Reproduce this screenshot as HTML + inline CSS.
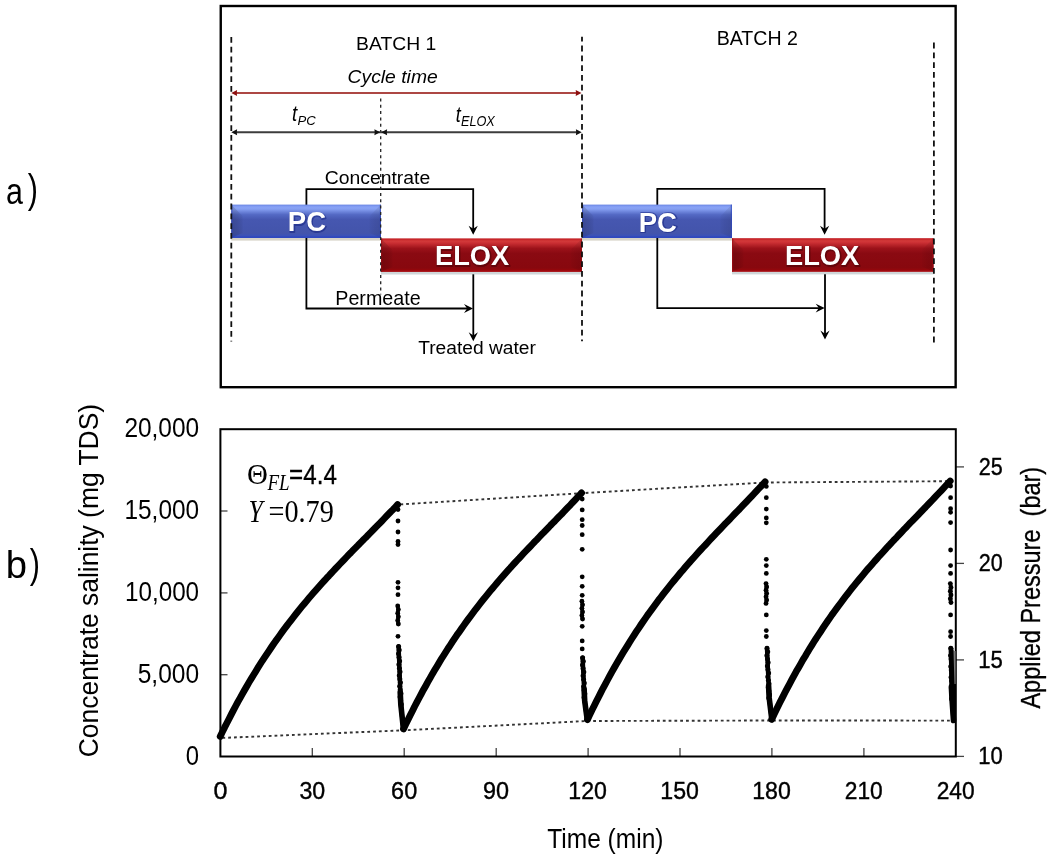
<!DOCTYPE html>
<html><head><meta charset="utf-8"><title>Batch cycle figure</title>
<style>html,body{margin:0;padding:0;background:#fff;overflow:hidden}svg{display:block}</style></head>
<body><svg width="1050" height="857" viewBox="0 0 1050 857">
<rect width="1050" height="857" fill="#fff"/>
<defs>
<linearGradient id="gpc" x1="0" y1="0" x2="0" y2="1">
 <stop offset="0" stop-color="#6a86e4"/>
 <stop offset="0.07" stop-color="#88a2f6"/>
 <stop offset="0.13" stop-color="#86a0f2"/>
 <stop offset="0.30" stop-color="#5469c4"/>
 <stop offset="0.45" stop-color="#4657b0"/>
 <stop offset="0.86" stop-color="#4354ab"/>
 <stop offset="0.93" stop-color="#3c52b8"/>
 <stop offset="1" stop-color="#2f48c2"/>
</linearGradient>
<linearGradient id="gel" x1="0" y1="0" x2="0" y2="1">
 <stop offset="0" stop-color="#c0181e"/>
 <stop offset="0.08" stop-color="#d23a3a"/>
 <stop offset="0.13" stop-color="#cc3034"/>
 <stop offset="0.30" stop-color="#9c121a"/>
 <stop offset="0.45" stop-color="#8a0a12"/>
 <stop offset="0.88" stop-color="#88080e"/>
 <stop offset="0.95" stop-color="#96080c"/>
 <stop offset="1" stop-color="#a40c10"/>
</linearGradient>
<linearGradient id="bevL" x1="0" y1="0" x2="1" y2="0">
 <stop offset="0" stop-color="#000" stop-opacity="0.16"/>
 <stop offset="0.6" stop-color="#000" stop-opacity="0.10"/>
 <stop offset="1" stop-color="#000" stop-opacity="0.03"/>
</linearGradient>
<linearGradient id="bevR" x1="1" y1="0" x2="0" y2="0">
 <stop offset="0" stop-color="#000" stop-opacity="0.10"/>
 <stop offset="0.6" stop-color="#000" stop-opacity="0.06"/>
 <stop offset="1" stop-color="#000" stop-opacity="0.02"/>
</linearGradient>
</defs>
<rect x="220.75" y="6" width="734.9" height="381.2" fill="none" stroke="#000" stroke-width="2.4"/>
<rect x="231.2" y="238.0" width="149.8" height="2.6" fill="#d8d4c8"/>
<rect x="381.0" y="271.9" width="201.0" height="2.6" fill="#cfd6d8"/>
<rect x="582.0" y="238.0" width="150.0" height="2.6" fill="#d8d4c8"/>
<rect x="732.0" y="271.8" width="201.60000000000002" height="2.6" fill="#cfd6d8"/>
<polyline points="473.2,230.8 473.2,189.1 306.4,189.1 306.4,308.5 468.8,308.5" fill="none" stroke="#000" stroke-width="1.8"/>
<path d="M473.20,234.70 L468.60,225.70 L473.20,228.85 L477.80,225.70 Z" fill="#000"/>
<path d="M473.00,308.50 L464.00,304.10 L467.15,308.50 L464.00,312.90 Z" fill="#000"/>
<line x1="473.3" y1="274.3" x2="473.3" y2="336.8" stroke="#000" stroke-width="1.8"/>
<path d="M473.30,341.30 L468.70,332.30 L473.30,335.45 L477.90,332.30 Z" fill="#000"/>
<polyline points="824.6,230.8 824.6,188.8 657.3,188.8 657.3,308.1 820.5,308.1" fill="none" stroke="#000" stroke-width="1.8"/>
<path d="M824.60,234.70 L820.00,225.70 L824.60,228.85 L829.20,225.70 Z" fill="#000"/>
<path d="M824.70,308.10 L815.70,303.70 L818.85,308.10 L815.70,312.50 Z" fill="#000"/>
<line x1="825.0" y1="274.3" x2="825.0" y2="335.1" stroke="#000" stroke-width="1.8"/>
<path d="M825.00,339.60 L820.40,330.60 L825.00,333.75 L829.60,330.60 Z" fill="#000"/>
<rect x="231.2" y="204.6" width="149.8" height="33.400000000000006" fill="url(#gpc)"/>
<path d="M231.2,204.6 L242.7,216.1 L242.7,233.0 L231.2,238.0 Z" fill="url(#bevL)"/>
<path d="M381.0,204.6 L369.5,216.1 L369.5,233.0 L381.0,238.0 Z" fill="url(#bevR)"/>
<rect x="231.2" y="236.0" width="149.8" height="2" fill="#2c45c0" opacity="0.35"/>
<rect x="231.2" y="204.6" width="1.2" height="33.400000000000006" fill="#2c45c0" opacity="0.6"/>
<rect x="379.8" y="204.6" width="1.2" height="33.400000000000006" fill="#2c45c0" opacity="0.6"/>
<rect x="381.0" y="238.4" width="201.0" height="33.49999999999997" fill="url(#gel)"/>
<path d="M381.0,238.4 L392.5,249.9 L392.5,266.9 L381.0,271.9 Z" fill="url(#bevL)"/>
<path d="M582.0,238.4 L570.5,249.9 L570.5,266.9 L582.0,271.9 Z" fill="url(#bevR)"/>
<rect x="381.0" y="269.9" width="201.0" height="2" fill="#a80c14" opacity="0.35"/>
<rect x="381.0" y="238.4" width="1.2" height="33.49999999999997" fill="#a80c14" opacity="0.6"/>
<rect x="580.8" y="238.4" width="1.2" height="33.49999999999997" fill="#a80c14" opacity="0.6"/>
<rect x="582.0" y="204.6" width="150.0" height="33.400000000000006" fill="url(#gpc)"/>
<path d="M582.0,204.6 L593.5,216.1 L593.5,233.0 L582.0,238.0 Z" fill="url(#bevL)"/>
<path d="M732.0,204.6 L720.5,216.1 L720.5,233.0 L732.0,238.0 Z" fill="url(#bevR)"/>
<rect x="582.0" y="236.0" width="150.0" height="2" fill="#2c45c0" opacity="0.35"/>
<rect x="582.0" y="204.6" width="1.2" height="33.400000000000006" fill="#2c45c0" opacity="0.6"/>
<rect x="730.8" y="204.6" width="1.2" height="33.400000000000006" fill="#2c45c0" opacity="0.6"/>
<rect x="732.0" y="238.2" width="201.60000000000002" height="33.60000000000002" fill="url(#gel)"/>
<path d="M732.0,238.2 L743.5,249.7 L743.5,266.8 L732.0,271.8 Z" fill="url(#bevL)"/>
<path d="M933.6,238.2 L922.1,249.7 L922.1,266.8 L933.6,271.8 Z" fill="url(#bevR)"/>
<rect x="732.0" y="269.8" width="201.60000000000002" height="2" fill="#a80c14" opacity="0.35"/>
<rect x="732.0" y="238.2" width="1.2" height="33.60000000000002" fill="#a80c14" opacity="0.6"/>
<rect x="932.4" y="238.2" width="1.2" height="33.60000000000002" fill="#a80c14" opacity="0.6"/>
<line x1="231.3" y1="37" x2="231.3" y2="341.5" stroke="#111" stroke-width="1.8" stroke-dasharray="5.8 4" stroke-dashoffset="0"/>
<line x1="582.0" y1="36.8" x2="582.0" y2="341.2" stroke="#111" stroke-width="1.8" stroke-dasharray="5.8 4" stroke-dashoffset="1"/>
<line x1="933.9" y1="42.6" x2="933.9" y2="342.4" stroke="#111" stroke-width="1.8" stroke-dasharray="5.8 4" stroke-dashoffset="0"/>
<line x1="380.7" y1="98.5" x2="380.7" y2="294.5" stroke="#222" stroke-width="1.3" stroke-dasharray="3 3.3"/>
<line x1="235" y1="93" x2="578" y2="93" stroke="#ad4744" stroke-width="2"/>
<path d="M231.30,93.00 L237.10,90.00 L236.75,93.00 L237.10,96.00 Z" fill="#8e1010"/>
<path d="M581.50,93.00 L575.70,90.00 L576.05,93.00 L575.70,96.00 Z" fill="#8e1010"/>
<line x1="235" y1="132.3" x2="577.5" y2="132.3" stroke="#3c3c3c" stroke-width="2"/>
<path d="M231.30,132.30 L237.10,129.30 L236.75,132.30 L237.10,135.30 Z" fill="#111"/>
<path d="M380.20,132.30 L374.40,129.30 L374.75,132.30 L374.40,135.30 Z" fill="#111"/>
<path d="M381.30,132.30 L387.10,129.30 L386.75,132.30 L387.10,135.30 Z" fill="#111"/>
<path d="M581.70,132.30 L575.90,129.30 L576.25,132.30 L575.90,135.30 Z" fill="#111"/>
<text transform="translate(6.01,203.93) scale(0.3044,0.3708)" style="font-family:'Liberation Sans',Arial,sans-serif;font-size:100px;white-space:pre" fill="#000">a</text>
<text transform="translate(27.77,203.46) scale(0.3048,0.4021)" style="font-family:'Liberation Sans',Arial,sans-serif;font-size:100px;white-space:pre" fill="#000">)</text>
<text transform="translate(356.10,49.90) scale(0.1934,0.1907)" style="font-family:'Liberation Sans',Arial,sans-serif;font-size:100px;white-space:pre" fill="#000">BATCH 1</text>
<text transform="translate(716.68,45.40) scale(0.1958,0.2007)" style="font-family:'Liberation Sans',Arial,sans-serif;font-size:100px;white-space:pre" fill="#000">BATCH 2</text>
<text transform="translate(347.54,82.94) scale(0.1933,0.1909)" style="font-family:'Liberation Sans',Arial,sans-serif;font-style:italic;font-size:100px;white-space:pre" fill="#000">Cycle time</text>
<text transform="translate(292.06,121.38) scale(0.1869,0.2168)" style="font-family:'Liberation Sans',Arial,sans-serif;font-style:italic;font-size:100px;white-space:pre" fill="#000">t</text>
<text transform="translate(297.51,125.18) scale(0.1311,0.1216)" style="font-family:'Liberation Sans',Arial,sans-serif;font-style:italic;font-size:100px;white-space:pre" fill="#000">PC</text>
<text transform="translate(455.69,122.19) scale(0.1794,0.2137)" style="font-family:'Liberation Sans',Arial,sans-serif;font-style:italic;font-size:100px;white-space:pre" fill="#000">t</text>
<text transform="translate(460.92,126.06) scale(0.1271,0.1399)" style="font-family:'Liberation Sans',Arial,sans-serif;font-style:italic;font-size:100px;white-space:pre" fill="#000">ELOX</text>
<text transform="translate(324.73,184.00) scale(0.1937,0.1849)" style="font-family:'Liberation Sans',Arial,sans-serif;font-size:100px;white-space:pre" fill="#000">Concentrate</text>
<text transform="translate(335.28,305.00) scale(0.1969,0.1935)" style="font-family:'Liberation Sans',Arial,sans-serif;font-size:100px;white-space:pre" fill="#000">Permeate</text>
<text transform="translate(418.17,353.60) scale(0.1921,0.1876)" style="font-family:'Liberation Sans',Arial,sans-serif;font-size:100px;white-space:pre" fill="#000">Treated water</text>
<text transform="translate(288.44,232.10) scale(0.2749,0.2724)" style="font-family:'Liberation Sans',Arial,sans-serif;font-weight:bold;font-size:100px;white-space:pre" fill="#0c1a78" stroke="#0c1a78" stroke-width="7" stroke-linejoin="round" opacity="0.45">PC</text>
<text transform="translate(287.84,231.40) scale(0.2749,0.2724)" style="font-family:'Liberation Sans',Arial,sans-serif;font-weight:bold;font-size:100px;white-space:pre" fill="#fff">PC</text>
<text transform="translate(639.34,232.40) scale(0.2749,0.2738)" style="font-family:'Liberation Sans',Arial,sans-serif;font-weight:bold;font-size:100px;white-space:pre" fill="#0c1a78" stroke="#0c1a78" stroke-width="7" stroke-linejoin="round" opacity="0.45">PC</text>
<text transform="translate(638.74,231.70) scale(0.2749,0.2738)" style="font-family:'Liberation Sans',Arial,sans-serif;font-weight:bold;font-size:100px;white-space:pre" fill="#fff">PC</text>
<text transform="translate(435.56,265.90) scale(0.2730,0.2781)" style="font-family:'Liberation Sans',Arial,sans-serif;font-weight:bold;font-size:100px;white-space:pre" fill="#3a0004" stroke="#3a0004" stroke-width="7" stroke-linejoin="round" opacity="0.45">ELOX</text>
<text transform="translate(434.96,265.20) scale(0.2730,0.2781)" style="font-family:'Liberation Sans',Arial,sans-serif;font-weight:bold;font-size:100px;white-space:pre" fill="#fff">ELOX</text>
<text transform="translate(785.55,265.80) scale(0.2733,0.2853)" style="font-family:'Liberation Sans',Arial,sans-serif;font-weight:bold;font-size:100px;white-space:pre" fill="#3a0004" stroke="#3a0004" stroke-width="7" stroke-linejoin="round" opacity="0.45">ELOX</text>
<text transform="translate(784.95,265.10) scale(0.2733,0.2853)" style="font-family:'Liberation Sans',Arial,sans-serif;font-weight:bold;font-size:100px;white-space:pre" fill="#fff">ELOX</text>
<text transform="translate(5.72,577.81) scale(0.3822,0.3891)" style="font-family:'Liberation Sans',Arial,sans-serif;font-size:100px;white-space:pre" fill="#000">b</text>
<text transform="translate(29.77,577.59) scale(0.3048,0.4054)" style="font-family:'Liberation Sans',Arial,sans-serif;font-size:100px;white-space:pre" fill="#000">)</text>
<polyline points="397.5,504.6 581.6,493.2 765.0,482.5 950.0,481.2" fill="none" stroke="#333" stroke-width="1.9" stroke-dasharray="2.8 3.0" stroke-dashoffset="-2.9"/>
<polyline points="220.5,738.0 403.5,730.3 587.0,721.0 771.5,720.5 951.0,720.6" fill="none" stroke="#333" stroke-width="1.9" stroke-dasharray="2.8 3.0" stroke-dashoffset="-1.9"/>
<line x1="221" y1="674.7" x2="227.5" y2="674.7" stroke="#444" stroke-width="1.3"/>
<line x1="221" y1="592.9" x2="227.5" y2="592.9" stroke="#444" stroke-width="1.3"/>
<line x1="221" y1="511.0" x2="227.5" y2="511.0" stroke="#444" stroke-width="1.3"/>
<line x1="312.3" y1="748" x2="312.3" y2="756" stroke="#444" stroke-width="1.3"/>
<line x1="404.2" y1="748" x2="404.2" y2="756" stroke="#444" stroke-width="1.3"/>
<line x1="496.2" y1="748" x2="496.2" y2="756" stroke="#444" stroke-width="1.3"/>
<line x1="588.1" y1="748" x2="588.1" y2="756" stroke="#444" stroke-width="1.3"/>
<line x1="680.0" y1="748" x2="680.0" y2="756" stroke="#444" stroke-width="1.3"/>
<line x1="771.9" y1="748" x2="771.9" y2="756" stroke="#444" stroke-width="1.3"/>
<line x1="863.9" y1="748" x2="863.9" y2="756" stroke="#444" stroke-width="1.3"/>
<line x1="956" y1="466.9" x2="964" y2="466.9" stroke="#444" stroke-width="1.3"/>
<line x1="956" y1="563.4" x2="964" y2="563.4" stroke="#444" stroke-width="1.3"/>
<line x1="956" y1="659.9" x2="964" y2="659.9" stroke="#444" stroke-width="1.3"/>
<line x1="956" y1="756.4" x2="964" y2="756.4" stroke="#444" stroke-width="1.3"/>
<rect x="220.4" y="429.2" width="735.4" height="327.3" fill="none" stroke="#000" stroke-width="2.0"/>
<polyline points="220.2,736.5 222.4,731.9 224.6,727.4 226.9,723.0 229.1,718.7 231.3,714.4 233.5,710.2 235.7,706.0 237.9,701.9 240.2,697.9 242.4,693.9 244.6,690.0 246.8,686.2 249.0,682.4 251.2,678.7 253.5,675.0 255.7,671.4 257.9,667.8 260.1,664.3 262.3,660.8 264.6,657.4 266.8,654.1 269.0,650.8 271.2,647.5 273.4,644.3 275.6,641.1 277.9,638.0 280.1,634.9 282.3,631.8 284.5,628.8 286.7,625.9 288.9,623.0 291.2,620.1 293.4,617.2 295.6,614.4 297.8,611.6 300.0,608.9 302.2,606.2 304.5,603.5 306.7,600.9 308.9,598.2 311.1,595.6 313.3,593.1 315.6,590.5 317.8,588.0 320.0,585.5 322.2,583.0 324.4,580.6 326.6,578.2 328.9,575.8 331.1,573.4 333.3,571.0 335.5,568.6 337.7,566.3 339.9,564.0 342.2,561.6 344.4,559.3 346.6,557.0 348.8,554.7 351.0,552.5 353.2,550.2 355.5,547.9 357.7,545.7 359.9,543.4 362.1,541.2 364.3,538.9 366.6,536.7 368.8,534.4 371.0,532.2 373.2,529.9 375.4,527.6 377.6,525.4 379.9,523.1 382.1,520.8 384.3,518.5 386.5,516.2 388.7,513.9 390.9,511.6 393.2,509.3 395.4,507.0 397.6,504.6" fill="none" stroke="#000" stroke-width="6.8" stroke-linecap="round" stroke-linejoin="round"/>
<polyline points="403.5,729.0 405.7,724.4 408.0,719.8 410.2,715.3 412.4,710.9 414.6,706.5 416.9,702.2 419.1,698.0 421.3,693.8 423.5,689.7 425.8,685.7 428.0,681.7 430.2,677.8 432.4,673.9 434.7,670.1 436.9,666.4 439.1,662.7 441.3,659.1 443.6,655.5 445.8,652.0 448.0,648.5 450.3,645.1 452.5,641.7 454.7,638.4 456.9,635.1 459.2,631.9 461.4,628.7 463.6,625.6 465.8,622.5 468.1,619.4 470.3,616.4 472.5,613.4 474.7,610.5 477.0,607.6 479.2,604.7 481.4,601.9 483.6,599.1 485.9,596.3 488.1,593.6 490.3,590.9 492.6,588.2 494.8,585.6 497.0,583.0 499.2,580.4 501.5,577.8 503.7,575.3 505.9,572.8 508.1,570.3 510.4,567.8 512.6,565.3 514.8,562.9 517.0,560.5 519.3,558.1 521.5,555.7 523.7,553.3 525.9,551.0 528.2,548.6 530.4,546.3 532.6,544.0 534.8,541.6 537.1,539.3 539.3,537.0 541.5,534.7 543.8,532.4 546.0,530.1 548.2,527.8 550.4,525.5 552.7,523.2 554.9,521.0 557.1,518.7 559.3,516.4 561.6,514.1 563.8,511.7 566.0,509.4 568.2,507.1 570.5,504.8 572.7,502.4 574.9,500.1 577.1,497.7 579.4,495.3 581.6,492.9" fill="none" stroke="#000" stroke-width="6.8" stroke-linecap="round" stroke-linejoin="round"/>
<polyline points="587.5,719.6 589.7,714.9 591.9,710.3 594.2,705.8 596.4,701.3 598.6,696.9 600.8,692.6 603.0,688.3 605.3,684.1 607.5,680.0 609.7,675.9 611.9,671.9 614.1,668.0 616.4,664.1 618.6,660.3 620.8,656.5 623.0,652.8 625.2,649.2 627.5,645.6 629.7,642.0 631.9,638.5 634.1,635.1 636.3,631.7 638.6,628.3 640.8,625.0 643.0,621.8 645.2,618.6 647.4,615.4 649.7,612.3 651.9,609.2 654.1,606.2 656.3,603.2 658.5,600.2 660.8,597.3 663.0,594.4 665.2,591.6 667.4,588.8 669.6,586.0 671.9,583.2 674.1,580.5 676.3,577.8 678.5,575.2 680.7,572.5 683.0,569.9 685.2,567.3 687.4,564.8 689.6,562.2 691.8,559.7 694.1,557.2 696.3,554.8 698.5,552.3 700.7,549.9 702.9,547.5 705.2,545.1 707.4,542.7 709.6,540.3 711.8,537.9 714.0,535.6 716.3,533.2 718.5,530.9 720.7,528.6 722.9,526.2 725.1,523.9 727.4,521.6 729.6,519.3 731.8,517.0 734.0,514.7 736.2,512.4 738.5,510.1 740.7,507.7 742.9,505.4 745.1,503.1 747.3,500.8 749.6,498.4 751.8,496.1 754.0,493.7 756.2,491.4 758.4,489.0 760.7,486.6 762.9,484.2 765.1,481.8" fill="none" stroke="#000" stroke-width="6.8" stroke-linecap="round" stroke-linejoin="round"/>
<polyline points="771.7,719.4 773.9,714.7 776.2,710.1 778.4,705.6 780.6,701.1 782.9,696.7 785.1,692.3 787.3,688.1 789.6,683.9 791.8,679.7 794.0,675.6 796.2,671.6 798.5,667.7 800.7,663.8 802.9,659.9 805.2,656.2 807.4,652.4 809.6,648.8 811.9,645.2 814.1,641.6 816.3,638.1 818.6,634.7 820.8,631.3 823.0,627.9 825.2,624.6 827.5,621.3 829.7,618.1 831.9,614.9 834.2,611.8 836.4,608.7 838.6,605.7 840.9,602.7 843.1,599.7 845.3,596.8 847.6,593.9 849.8,591.0 852.0,588.2 854.3,585.4 856.5,582.7 858.7,580.0 861.0,577.3 863.2,574.6 865.4,571.9 867.6,569.3 869.9,566.7 872.1,564.2 874.3,561.6 876.6,559.1 878.8,556.6 881.0,554.2 883.3,551.7 885.5,549.2 887.7,546.8 890.0,544.4 892.2,542.0 894.4,539.6 896.7,537.3 898.9,534.9 901.1,532.6 903.3,530.2 905.6,527.9 907.8,525.5 910.0,523.2 912.3,520.9 914.5,518.6 916.7,516.3 919.0,514.0 921.2,511.6 923.4,509.3 925.7,507.0 927.9,504.7 930.1,502.4 932.4,500.0 934.6,497.7 936.8,495.3 939.0,493.0 941.3,490.6 943.5,488.2 945.7,485.8 948.0,483.4 950.2,481.0" fill="none" stroke="#000" stroke-width="6.8" stroke-linecap="round" stroke-linejoin="round"/>
<circle cx="398.0" cy="509.6" r="2.4" fill="#000"/>
<circle cx="398.0" cy="521" r="2.4" fill="#000"/>
<circle cx="398.0" cy="532" r="2.4" fill="#000"/>
<circle cx="398.0" cy="541.4" r="2.4" fill="#000"/>
<circle cx="398.0" cy="544.6" r="2.4" fill="#000"/>
<circle cx="398.0" cy="582.3" r="2.4" fill="#000"/>
<circle cx="398.0" cy="587.8" r="2.4" fill="#000"/>
<circle cx="398.0" cy="594.7" r="2.4" fill="#000"/>
<circle cx="398.0" cy="636.3" r="2.4" fill="#000"/>
<line x1="398.0" y1="606" x2="398.0" y2="624" stroke="#000" stroke-width="3.6" stroke-linecap="round"/>
<circle cx="397.7" cy="606.0" r="2.4" fill="#000"/>
<circle cx="398.4" cy="609.6" r="2.4" fill="#000"/>
<circle cx="397.7" cy="613.2" r="2.4" fill="#000"/>
<circle cx="398.4" cy="616.8" r="2.4" fill="#000"/>
<circle cx="397.7" cy="620.4" r="2.4" fill="#000"/>
<circle cx="398.4" cy="624.0" r="2.4" fill="#000"/>
<path d="M398.6,646.5 L400.8,704.2 L403.4,729" fill="none" stroke="#000" stroke-width="4.4" stroke-linecap="round" stroke-linejoin="round"/>
<circle cx="398.6" cy="646.5" r="2.5" fill="#000"/>
<circle cx="399.2" cy="650.1" r="2.5" fill="#000"/>
<circle cx="398.5" cy="653.7" r="2.5" fill="#000"/>
<circle cx="399.0" cy="657.3" r="2.5" fill="#000"/>
<circle cx="399.6" cy="660.9" r="2.5" fill="#000"/>
<circle cx="398.9" cy="664.5" r="2.5" fill="#000"/>
<circle cx="399.4" cy="668.2" r="2.5" fill="#000"/>
<circle cx="400.0" cy="671.8" r="2.5" fill="#000"/>
<circle cx="399.3" cy="675.4" r="2.5" fill="#000"/>
<circle cx="399.8" cy="679.0" r="2.5" fill="#000"/>
<circle cx="400.4" cy="682.6" r="2.5" fill="#000"/>
<circle cx="399.7" cy="686.2" r="2.5" fill="#000"/>
<circle cx="400.2" cy="689.8" r="2.5" fill="#000"/>
<circle cx="400.9" cy="693.4" r="2.5" fill="#000"/>
<circle cx="400.1" cy="697.0" r="2.5" fill="#000"/>
<circle cx="400.6" cy="700.6" r="2.5" fill="#000"/>
<circle cx="401.3" cy="704.2" r="2.5" fill="#000"/>
<path d="M400.2,692.2 L400.8,704.2 L403.4,729" fill="none" stroke="#000" stroke-width="5.6" stroke-linecap="round" stroke-linejoin="round"/>
<circle cx="582.2" cy="499" r="2.4" fill="#000"/>
<circle cx="582.2" cy="509.9" r="2.4" fill="#000"/>
<circle cx="582.2" cy="519.7" r="2.4" fill="#000"/>
<circle cx="582.2" cy="525.5" r="2.4" fill="#000"/>
<circle cx="582.2" cy="534.7" r="2.4" fill="#000"/>
<circle cx="582.2" cy="549.3" r="2.4" fill="#000"/>
<circle cx="582.2" cy="576.8" r="2.4" fill="#000"/>
<circle cx="582.2" cy="586.3" r="2.4" fill="#000"/>
<circle cx="582.2" cy="595.3" r="2.4" fill="#000"/>
<circle cx="582.2" cy="626.3" r="2.4" fill="#000"/>
<circle cx="582.2" cy="640.9" r="2.4" fill="#000"/>
<circle cx="582.2" cy="648.9" r="2.4" fill="#000"/>
<line x1="582.2" y1="601.2" x2="582.2" y2="619" stroke="#000" stroke-width="3.6" stroke-linecap="round"/>
<circle cx="581.9" cy="601.2" r="2.4" fill="#000"/>
<circle cx="582.6" cy="604.8" r="2.4" fill="#000"/>
<circle cx="581.9" cy="608.3" r="2.4" fill="#000"/>
<circle cx="582.6" cy="611.9" r="2.4" fill="#000"/>
<circle cx="581.9" cy="615.4" r="2.4" fill="#000"/>
<circle cx="582.6" cy="619.0" r="2.4" fill="#000"/>
<path d="M582.6,657.7 L584.7,701.0 L587.2,719.6" fill="none" stroke="#000" stroke-width="4.4" stroke-linecap="round" stroke-linejoin="round"/>
<circle cx="582.6" cy="657.7" r="2.5" fill="#000"/>
<circle cx="583.3" cy="661.3" r="2.5" fill="#000"/>
<circle cx="582.5" cy="664.9" r="2.5" fill="#000"/>
<circle cx="583.1" cy="668.5" r="2.5" fill="#000"/>
<circle cx="583.8" cy="672.1" r="2.5" fill="#000"/>
<circle cx="583.1" cy="675.8" r="2.5" fill="#000"/>
<circle cx="583.6" cy="679.4" r="2.5" fill="#000"/>
<circle cx="584.3" cy="683.0" r="2.5" fill="#000"/>
<circle cx="583.6" cy="686.6" r="2.5" fill="#000"/>
<circle cx="584.2" cy="690.2" r="2.5" fill="#000"/>
<circle cx="584.8" cy="693.8" r="2.5" fill="#000"/>
<circle cx="584.1" cy="697.4" r="2.5" fill="#000"/>
<circle cx="584.7" cy="701.0" r="2.5" fill="#000"/>
<path d="M584.1,689.0 L584.7,701.0 L587.2,719.6" fill="none" stroke="#000" stroke-width="5.6" stroke-linecap="round" stroke-linejoin="round"/>
<circle cx="766.3" cy="486.4" r="2.4" fill="#000"/>
<circle cx="766.3" cy="497.7" r="2.4" fill="#000"/>
<circle cx="766.3" cy="509.1" r="2.4" fill="#000"/>
<circle cx="766.3" cy="517.9" r="2.4" fill="#000"/>
<circle cx="766.3" cy="522.8" r="2.4" fill="#000"/>
<circle cx="766.3" cy="559.3" r="2.4" fill="#000"/>
<circle cx="766.3" cy="565.6" r="2.4" fill="#000"/>
<circle cx="766.3" cy="573.4" r="2.4" fill="#000"/>
<circle cx="766.3" cy="614.9" r="2.4" fill="#000"/>
<circle cx="766.3" cy="630.6" r="2.4" fill="#000"/>
<circle cx="766.3" cy="636.5" r="2.4" fill="#000"/>
<line x1="766.3" y1="583.6" x2="766.3" y2="603.4" stroke="#000" stroke-width="3.6" stroke-linecap="round"/>
<circle cx="766.0" cy="583.6" r="2.4" fill="#000"/>
<circle cx="766.7" cy="586.9" r="2.4" fill="#000"/>
<circle cx="766.0" cy="590.2" r="2.4" fill="#000"/>
<circle cx="766.7" cy="593.5" r="2.4" fill="#000"/>
<circle cx="766.0" cy="596.8" r="2.4" fill="#000"/>
<circle cx="766.7" cy="600.1" r="2.4" fill="#000"/>
<circle cx="766.0" cy="603.4" r="2.4" fill="#000"/>
<path d="M767,648.3 L769.2,698.0 L771.8,719.3" fill="none" stroke="#000" stroke-width="4.4" stroke-linecap="round" stroke-linejoin="round"/>
<circle cx="767.0" cy="648.3" r="2.5" fill="#000"/>
<circle cx="767.7" cy="651.8" r="2.5" fill="#000"/>
<circle cx="766.9" cy="655.4" r="2.5" fill="#000"/>
<circle cx="767.5" cy="658.9" r="2.5" fill="#000"/>
<circle cx="768.1" cy="662.5" r="2.5" fill="#000"/>
<circle cx="767.4" cy="666.0" r="2.5" fill="#000"/>
<circle cx="767.9" cy="669.6" r="2.5" fill="#000"/>
<circle cx="768.6" cy="673.1" r="2.5" fill="#000"/>
<circle cx="767.8" cy="676.7" r="2.5" fill="#000"/>
<circle cx="768.4" cy="680.2" r="2.5" fill="#000"/>
<circle cx="769.0" cy="683.8" r="2.5" fill="#000"/>
<circle cx="768.3" cy="687.4" r="2.5" fill="#000"/>
<circle cx="768.9" cy="690.9" r="2.5" fill="#000"/>
<circle cx="769.5" cy="694.5" r="2.5" fill="#000"/>
<circle cx="768.8" cy="698.0" r="2.5" fill="#000"/>
<path d="M768.6,686.0 L769.2,698.0 L771.8,719.3" fill="none" stroke="#000" stroke-width="5.6" stroke-linecap="round" stroke-linejoin="round"/>
<circle cx="950.6" cy="486" r="2.4" fill="#000"/>
<circle cx="950.6" cy="497.7" r="2.4" fill="#000"/>
<circle cx="950.6" cy="508.7" r="2.4" fill="#000"/>
<circle cx="950.6" cy="512.3" r="2.4" fill="#000"/>
<circle cx="950.6" cy="522.6" r="2.4" fill="#000"/>
<circle cx="950.6" cy="550" r="2.4" fill="#000"/>
<circle cx="950.6" cy="565.6" r="2.4" fill="#000"/>
<circle cx="950.6" cy="573.4" r="2.4" fill="#000"/>
<circle cx="950.6" cy="614.9" r="2.4" fill="#000"/>
<circle cx="950.6" cy="631.7" r="2.4" fill="#000"/>
<circle cx="950.6" cy="636.5" r="2.4" fill="#000"/>
<line x1="950.6" y1="583.6" x2="950.6" y2="602.6" stroke="#000" stroke-width="3.6" stroke-linecap="round"/>
<circle cx="950.3" cy="583.6" r="2.4" fill="#000"/>
<circle cx="951.0" cy="587.4" r="2.4" fill="#000"/>
<circle cx="950.3" cy="591.2" r="2.4" fill="#000"/>
<circle cx="951.0" cy="595.0" r="2.4" fill="#000"/>
<circle cx="950.3" cy="598.8" r="2.4" fill="#000"/>
<circle cx="951.0" cy="602.6" r="2.4" fill="#000"/>
<path d="M950.8,648.3 L952.0,698.8 L953.5,720.5" fill="none" stroke="#000" stroke-width="4.4" stroke-linecap="round" stroke-linejoin="round"/>
<circle cx="950.8" cy="648.3" r="2.5" fill="#000"/>
<circle cx="951.4" cy="651.9" r="2.5" fill="#000"/>
<circle cx="950.6" cy="655.5" r="2.5" fill="#000"/>
<circle cx="951.1" cy="659.1" r="2.5" fill="#000"/>
<circle cx="951.6" cy="662.7" r="2.5" fill="#000"/>
<circle cx="950.8" cy="666.4" r="2.5" fill="#000"/>
<circle cx="951.3" cy="670.0" r="2.5" fill="#000"/>
<circle cx="951.9" cy="673.6" r="2.5" fill="#000"/>
<circle cx="951.1" cy="677.2" r="2.5" fill="#000"/>
<circle cx="951.6" cy="680.8" r="2.5" fill="#000"/>
<circle cx="952.2" cy="684.4" r="2.5" fill="#000"/>
<circle cx="951.4" cy="688.0" r="2.5" fill="#000"/>
<circle cx="951.8" cy="691.6" r="2.5" fill="#000"/>
<circle cx="952.4" cy="695.2" r="2.5" fill="#000"/>
<circle cx="951.6" cy="698.8" r="2.5" fill="#000"/>
<path d="M951.4,686.8 L952.0,698.8 L953.5,720.5" fill="none" stroke="#000" stroke-width="5.6" stroke-linecap="round" stroke-linejoin="round"/>
<rect x="952.6" y="651" width="3" height="34" fill="#7a7a7a"/>
<path d="M949.2,648 L953.4,648 L954.5,684 L956,684 L956,722 L952.2,722.5 L950.4,705 L949.6,684 Z" fill="#000"/>
<text transform="translate(124.38,437.40) scale(0.2444,0.2681)" style="font-family:'Liberation Sans',Arial,sans-serif;font-size:100px;white-space:pre" fill="#000">20,000</text>
<text transform="translate(124.47,519.00) scale(0.2441,0.2681)" style="font-family:'Liberation Sans',Arial,sans-serif;font-size:100px;white-space:pre" fill="#000">15,000</text>
<text transform="translate(124.98,600.60) scale(0.2424,0.2681)" style="font-family:'Liberation Sans',Arial,sans-serif;font-size:100px;white-space:pre" fill="#000">10,000</text>
<text transform="translate(137.72,682.50) scale(0.2454,0.2681)" style="font-family:'Liberation Sans',Arial,sans-serif;font-size:100px;white-space:pre" fill="#000">5,000</text>
<text transform="translate(185.85,764.70) scale(0.2387,0.2681)" style="font-family:'Liberation Sans',Arial,sans-serif;font-size:100px;white-space:pre" fill="#000">0</text>
<text transform="translate(213.39,799.00) scale(0.2513,0.2380)" style="font-family:'Liberation Sans',Arial,sans-serif;font-size:100px;white-space:pre" fill="#000" stroke="#000" stroke-width="1.6">0</text>
<text transform="translate(299.46,799.00) scale(0.2319,0.2380)" style="font-family:'Liberation Sans',Arial,sans-serif;font-size:100px;white-space:pre" fill="#000" stroke="#000" stroke-width="1.6">30</text>
<text transform="translate(391.08,799.00) scale(0.2347,0.2380)" style="font-family:'Liberation Sans',Arial,sans-serif;font-size:100px;white-space:pre" fill="#000" stroke="#000" stroke-width="1.6">60</text>
<text transform="translate(483.06,799.00) scale(0.2341,0.2380)" style="font-family:'Liberation Sans',Arial,sans-serif;font-size:100px;white-space:pre" fill="#000" stroke="#000" stroke-width="1.6">90</text>
<text transform="translate(568.36,799.00) scale(0.2315,0.2380)" style="font-family:'Liberation Sans',Arial,sans-serif;font-size:100px;white-space:pre" fill="#000" stroke="#000" stroke-width="1.6">120</text>
<text transform="translate(660.29,799.00) scale(0.2315,0.2380)" style="font-family:'Liberation Sans',Arial,sans-serif;font-size:100px;white-space:pre" fill="#000" stroke="#000" stroke-width="1.6">150</text>
<text transform="translate(752.21,799.00) scale(0.2315,0.2380)" style="font-family:'Liberation Sans',Arial,sans-serif;font-size:100px;white-space:pre" fill="#000" stroke="#000" stroke-width="1.6">180</text>
<text transform="translate(844.74,799.00) scale(0.2278,0.2380)" style="font-family:'Liberation Sans',Arial,sans-serif;font-size:100px;white-space:pre" fill="#000" stroke="#000" stroke-width="1.6">210</text>
<text transform="translate(936.66,799.00) scale(0.2278,0.2380)" style="font-family:'Liberation Sans',Arial,sans-serif;font-size:100px;white-space:pre" fill="#000" stroke="#000" stroke-width="1.6">240</text>
<text transform="translate(978.72,474.90) scale(0.2157,0.2380)" style="font-family:'Liberation Sans',Arial,sans-serif;font-size:100px;white-space:pre" fill="#000" stroke="#000" stroke-width="1.6">25</text>
<text transform="translate(978.72,571.40) scale(0.2152,0.2380)" style="font-family:'Liberation Sans',Arial,sans-serif;font-size:100px;white-space:pre" fill="#000" stroke="#000" stroke-width="1.6">20</text>
<text transform="translate(978.14,667.90) scale(0.2211,0.2415)" style="font-family:'Liberation Sans',Arial,sans-serif;font-size:100px;white-space:pre" fill="#000" stroke="#000" stroke-width="1.6">15</text>
<text transform="translate(978.15,764.40) scale(0.2206,0.2380)" style="font-family:'Liberation Sans',Arial,sans-serif;font-size:100px;white-space:pre" fill="#000" stroke="#000" stroke-width="1.6">10</text>
<text transform="translate(547.25,847.80) scale(0.2453,0.2731)" style="font-family:'Liberation Sans',Arial,sans-serif;font-size:100px;white-space:pre" fill="#000">Time (min)</text>
<text transform="translate(97.80,757.22) rotate(-90) scale(0.2642,0.2855)" style="font-family:'Liberation Sans',Arial,sans-serif;font-size:100px;white-space:pre" fill="#000">Concentrate salinity (mg TDS)</text>
<text transform="translate(1040.40,708.56) rotate(-90) scale(0.2352,0.2703)" style="font-family:'Liberation Sans',Arial,sans-serif;font-size:100px;white-space:pre" fill="#000" stroke="#000" stroke-width="1.2">Applied Pressure  (bar)</text>
<text transform="translate(247.04,483.70) scale(0.2891,0.3033)" style="font-family:'Liberation Serif','Times New Roman',serif;font-size:100px;white-space:pre" fill="#000">Θ</text>
<text transform="translate(267.49,490.30) scale(0.1898,0.2229)" style="font-family:'Liberation Serif','Times New Roman',serif;font-style:italic;font-size:100px;white-space:pre" fill="#000">FL</text>
<text transform="translate(289.09,484.00) scale(0.2422,0.2735)" style="font-family:'Liberation Sans',Arial,sans-serif;font-size:100px;white-space:pre" fill="#000" stroke="#000" stroke-width="1.2">=4.4</text>
<text transform="translate(248.52,522.10) scale(0.2570,0.3176)" style="font-family:'Liberation Serif','Times New Roman',serif;font-style:italic;font-size:100px;white-space:pre" fill="#000">Y</text>
<text transform="translate(268.49,522.00) scale(0.2822,0.3113)" style="font-family:'Liberation Serif','Times New Roman',serif;font-size:100px;white-space:pre" fill="#000">=0.79</text>
</svg></body></html>
